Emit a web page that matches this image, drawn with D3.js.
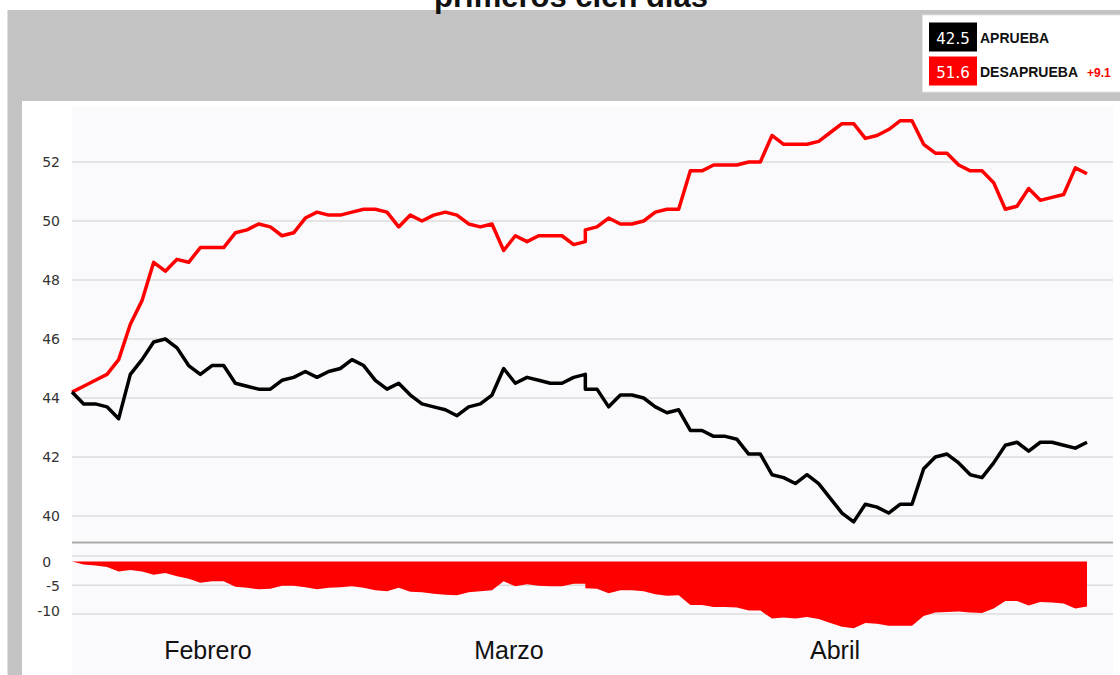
<!DOCTYPE html>
<html>
<head>
<meta charset="utf-8">
<script src="https://cdn.jsdelivr.net/npm/d3@7"></script>
<style>
  html, body { margin: 0; padding: 0; background: #fff; }
  svg { display: block; }
  .tick-label { font-family: "DejaVu Sans", Verdana, sans-serif; font-size: 14px; fill: #333; }
  .month { font-family: "Liberation Sans", Arial, sans-serif; font-size: 25px; fill: #111; }
  .legend-num { font-family: "DejaVu Sans", Verdana, sans-serif; font-size: 15px; fill: #fff; }
  .legend-name { font-family: "Liberation Sans", Arial, sans-serif; font-size: 14px; font-weight: bold; fill: #111; }
</style>
</head>
<body>
<svg id="chart" width="1120" height="675"></svg>
<script>
// day index of each sample (day 44 has two readings)
var days = [0,1,2,3,4,5,6,7,8,9,10,11,12,13,14,15,16,17,18,19,20,21,22,23,24,25,26,27,28,29,
  30,31,32,33,34,35,36,37,38,39,40,41,42,43,44,44,45,46,47,48,49,50,51,52,53,54,55,56,57,58,59,
  60,61,62,63,64,65,66,67,68,69,70,71,72,73,74,75,76,77,78,79,80,81,82,83,84,85,86,87];

var aprueba = [44.2,43.8,43.8,43.7,43.3,44.8,45.3,45.9,46.0,45.7,45.1,44.8,45.1,45.1,44.5,44.4,44.3,44.3,44.6,44.7,
  44.9,44.7,44.9,45.0,45.3,45.1,44.6,44.3,44.5,44.1,43.8,43.7,43.6,43.4,43.7,43.8,44.1,45.0,44.5,44.7,
  44.6,44.5,44.5,44.7,44.8,44.3,44.3,43.7,44.1,44.1,44.0,43.7,43.5,43.6,42.9,42.9,42.7,42.7,42.6,42.1,
  42.1,41.4,41.3,41.1,41.4,41.1,40.6,40.1,39.8,40.4,40.3,40.1,40.4,40.4,41.6,42.0,42.1,41.8,41.4,41.3,
  41.8,42.4,42.5,42.2,42.5,42.5,42.4,42.3,42.5];

var desaprueba = [44.2,44.4,44.6,44.8,45.3,46.5,47.3,48.6,48.3,48.7,48.6,49.1,49.1,49.1,49.6,49.7,49.9,49.8,49.5,49.6,
  50.1,50.3,50.2,50.2,50.3,50.4,50.4,50.3,49.8,50.2,50.0,50.2,50.3,50.2,49.9,49.8,49.9,49.0,49.5,49.3,
  49.5,49.5,49.5,49.2,49.3,49.7,49.8,50.1,49.9,49.9,50.0,50.3,50.4,50.4,51.7,51.7,51.9,51.9,51.9,52.0,
  52.0,52.9,52.6,52.6,52.6,52.7,53.0,53.3,53.3,52.8,52.9,53.1,53.4,53.4,52.6,52.3,52.3,51.9,51.7,51.7,
  51.3,50.4,50.5,51.1,50.7,50.8,50.9,51.8,51.6];

var yTicks = [40, 42, 44, 46, 48, 50, 52];
var diffTicks = [0, -5, -10];
var diffTickLabels = ['0\u2007', '-5', '-10'];
var diffGrid = [1.1, -4.8, -10.6];
var months = ['Febrero', 'Marzo', 'Abril'];
var monthDays = [11.65, 37.45, 65.4];
var titleText = 'primeros cien días';
var seriesNames = ['APRUEBA', 'DESAPRUEBA'];
var seriesColors = ['#000000', '#ff0000'];

var svg = d3.select('#chart');

// diff series, aprueba minus desaprueba
var rows = days.map(function(d, i) {
  return {day: d, a: aprueba[i], d: desaprueba[i], diff: aprueba[i] - desaprueba[i]};
});

var x = d3.scaleLinear().domain([0, 87]).range([72, 1087]);
var y = d3.scaleLinear().domain([40, 52]).range([516, 162]);
var yDiff = d3.scaleLinear().domain([0, -10]).range([561.5, 611]);

// frame
svg.append('rect').attr('x', 7.5).attr('y', 10).attr('width', 1113).attr('height', 665).attr('fill', '#c3c3c3');
svg.append('rect').attr('x', 22).attr('y', 101).attr('width', 1098).attr('height', 574).attr('fill', '#fff');
svg.append('rect').attr('x', 72).attr('y', 107).attr('width', 1041).attr('height', 568).attr('fill', '#fafafd');

// title (only its last line is on the canvas)
svg.append('text')
  .attr('x', 571).attr('y', 7)
  .attr('text-anchor', 'middle')
  .style('font-family', '"Liberation Sans", Arial, sans-serif')
  .style('font-size', '31px').style('font-weight', 'bold')
  .attr('fill', '#111')
  .text(titleText);

// main grid
svg.append('g').selectAll('line').data(yTicks).enter().append('line')
  .attr('x1', 72).attr('x2', 1113)
  .attr('y1', function(d) { return y(d); }).attr('y2', function(d) { return y(d); })
  .attr('stroke', '#dcdcdc').attr('stroke-width', 1.5);

svg.append('g').selectAll('text').data(yTicks).enter().append('text')
  .attr('class', 'tick-label')
  .attr('x', 60).attr('y', function(d) { return y(d); })
  .attr('dy', '0.36em').attr('text-anchor', 'end')
  .text(function(d) { return d; });

// separator between panels
svg.append('line').attr('x1', 72).attr('x2', 1113).attr('y1', 542.5).attr('y2', 542.5)
  .attr('stroke', '#a9a9a9').attr('stroke-width', 2);

// diff grid + labels
svg.append('g').selectAll('line').data(diffGrid).enter().append('line')
  .attr('x1', 72).attr('x2', 1113)
  .attr('y1', function(d) { return yDiff(d); }).attr('y2', function(d) { return yDiff(d); })
  .attr('stroke', '#dcdcdc').attr('stroke-width', 1.5);

svg.append('g').selectAll('text').data(diffTicks).enter().append('text')
  .attr('class', 'tick-label')
  .attr('x', 60).attr('y', function(d) { return yDiff(d); })
  .attr('dy', '0.36em').attr('text-anchor', 'end')
  .text(function(d, i) { return diffTickLabels[i]; });

// diff area
var area = d3.area()
  .x(function(r) { return x(r.day); })
  .y0(yDiff(0))
  .y1(function(r) { return yDiff(r.diff); });

svg.append('path').datum(rows).attr('d', area).attr('fill', '#ff0000');

// lines
var lineA = d3.line().x(function(r) { return x(r.day); }).y(function(r) { return y(r.a); });
var lineD = d3.line().x(function(r) { return x(r.day); }).y(function(r) { return y(r.d); });

svg.append('path').datum(rows).attr('d', lineD)
  .attr('fill', 'none').attr('stroke', seriesColors[1]).attr('stroke-width', 3.5).attr('stroke-linejoin', 'round');
svg.append('path').datum(rows).attr('d', lineA)
  .attr('fill', 'none').attr('stroke', seriesColors[0]).attr('stroke-width', 3.5).attr('stroke-linejoin', 'round');

// month labels
svg.append('g').selectAll('text').data(months).enter().append('text')
  .attr('class', 'month')
  .attr('x', function(d, i) { return x(monthDays[i]); })
  .attr('y', 659)
  .attr('text-anchor', 'middle')
  .text(function(d) { return d; });

// legend
var last = rows[rows.length - 1];
var lastVals = [last.a, last.d];
var legend = svg.append('g');
legend.append('rect').attr('x', 922.5).attr('y', 15).attr('width', 200).attr('height', 77)
  .attr('fill', '#fff').attr('stroke', '#e4e4e4');

var items = legend.selectAll('g.item').data(seriesNames).enter().append('g')
  .attr('class', 'item')
  .attr('transform', function(d, i) { return 'translate(929,' + (22.5 + i * 34) + ')'; });

items.append('rect').attr('width', 48).attr('height', 29)
  .attr('fill', function(d, i) { return seriesColors[i]; });
items.append('text').attr('class', 'legend-num')
  .attr('x', 24).attr('y', 21).attr('text-anchor', 'middle')
  .text(function(d, i) { return lastVals[i].toFixed(1); });
items.append('text').attr('class', 'legend-name')
  .attr('x', 51).attr('y', 20.5)
  .text(function(d) { return d; });

legend.append('text')
  .attr('x', 1087).attr('y', 76.5)
  .style('font-family', '"Liberation Sans", Arial, sans-serif')
  .style('font-size', '12px').style('font-weight', 'bold')
  .attr('fill', '#ff0000')
  .text('+' + (last.d - last.a).toFixed(1));
</script>
</body>
</html>
